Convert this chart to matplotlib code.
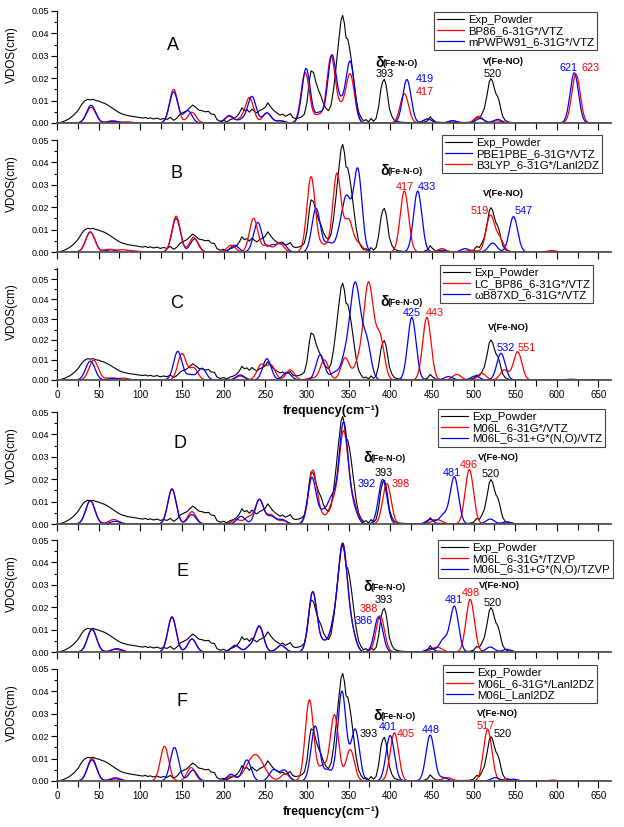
import numpy as np
import matplotlib
matplotlib.use("Agg")
from matplotlib import pyplot as plt
from matplotlib.ticker import MultipleLocator, FormatStrFormatter

plt.rcParams["font.family"] = ["Liberation Sans", "DejaVu Sans"]

W, H = 624, 827
RED, BLUE, BLACK = "#ff0000", "#0000ff", "#000000"

# experimental powder VDOS (same trace in every panel)
exp_freq = [0, 5, 10, 15, 20, 25, 30, 33, 37, 40, 43, 47, 50, 53, 57, 60, 63, 67, 70, 73,
            77, 80, 85, 90, 95, 100, 103, 106, 109, 112, 116, 120, 124, 128, 132, 136, 140,
            144, 148, 152, 156, 160, 163, 166, 170, 174, 178, 182, 185, 189, 192, 196, 200,
            204, 208, 212, 216, 219, 222, 225, 228, 231, 234, 237, 240, 243, 246, 250, 253,
            256, 259, 262, 265, 268, 271, 274, 277, 280, 283, 286, 290, 294, 297, 300, 303,
            305, 308, 311, 314, 317, 320, 323, 326, 329, 332, 335, 338, 341, 343, 345, 347,
            349, 351, 353, 355, 357, 359, 362, 365, 368, 371, 374, 377, 380, 383, 386, 389,
            391, 393, 395, 397, 399, 402, 405, 410, 415, 420, 430, 440, 445, 448, 451, 455,
            465, 480, 495, 500, 504, 507, 510, 513, 516, 519, 521, 523, 525, 527, 529, 531,
            533, 535, 538, 542, 548, 560, 600, 665]
exp_vdos = [0, .0003, .001, .002, .0035, .0055, .0085, .0098, .0106, .0103, .0106, .0100,
            .0098, .0093, .0088, .0082, .0075, .0065, .0058, .0050, .0042, .0038, .0033,
            .0030, .0027, .0024, .0022, .0025, .0020, .0023, .0018, .0022, .0016, .0020,
            .0016, .0025, .0012, .0022, .0040, .0048, .0055, .0070, .0080, .0072, .0058,
            .0055, .0050, .0052, .0040, .0038, .0015, .0008, .0012, .0005, .0015, .0020,
            .0030, .0045, .0068, .0055, .0060, .0048, .0062, .0052, .0045, .0055, .0060,
            .0070, .0090, .0075, .0060, .0050, .0042, .0035, .0040, .0030, .0035, .0042,
            .0025, .0020, .0022, .0028, .0040, .0090, .0190, .0233, .0225, .0180, .0145,
            .0120, .0085, .0065, .0055, .0080, .0150, .0250, .0360, .0460, .0480, .0445,
            .0380, .0375, .0340, .0290, .0230, .0170, .0110, .0050, .0025, .0010, .0015,
            .0005, .0020, .0008, .0020, .0070, .0155, .0185, .0195, .0170, .0120, .0065,
            .0030, .0012, .0005, .0003, .0002, .0002, .0002, .0010, .0028, .0015, .0004,
            .0002, .0002, .0003, .0008, .0025, .0020, .0040, .0065, .0120, .0185, .0198,
            .0185, .0155, .0130, .0118, .0095, .0060, .0030, .0012, .0004, .0001, 0, 0, 0]

# calculated spectra as peak tables: (centre cm-1, height, gaussian sigma)
a_bp86 = [(41, .0070, 5.5), (66, .0010, 6), (84, .0005, 6), (140, .0150, 5), (162, .0048, 5),
          (206, .0030, 5), (220, .0015, 5), (231, .0112, 5), (252, .0045, 5), (268, .0010, 5),
          (298, .0225, 5), (314, .0035, 5), (329, .0295, 5), (341, .0060, 5), (352, .0215, 5),
          (417, .0131, 5), (445, .0018, 5), (475, .0010, 5), (506, .0030, 5), (528, .0010, 5),
          (623, .0218, 5)]
a_mpw = [(41, .0079, 5.5), (68, .0008, 6), (140, .0139, 5), (157, .0055, 5), (207, .0033, 5),
         (222, .0015, 5), (234, .0118, 5), (252, .0045, 5), (268, .0010, 5), (299, .0243, 5),
         (315, .0045, 5), (330, .0298, 5), (341, .0070, 5), (352, .0270, 5), (420, .0194, 5),
         (445, .0018, 5), (475, .0010, 5), (508, .0020, 5), (529, .0016, 5), (621, .0224, 5)]

b_pbe = [(40, .0090, 5.5), (65, .0010, 6), (143, .0150, 5), (165, .0058, 5), (213, .0030, 5),
         (241, .0132, 5), (258, .0030, 5), (270, .0042, 5), (311, .0195, 5), (326, .0040, 5),
         (340, .0080, 5), (348, .0220, 5), (361, .0368, 5), (433, .0272, 5), (462, .0008, 5),
         (490, .0015, 5), (523, .0040, 5), (548, .0158, 5)]
b_b3lyp = [(40, .0088, 5.5), (62, .0012, 6), (78, .0010, 6), (92, .0005, 6), (143, .0160, 5),
           (164, .0065, 5), (209, .0030, 5), (236, .0150, 5), (252, .0030, 5), (267, .0040, 5),
           (305, .0336, 5), (320, .0030, 5), (336, .0350, 5), (350, .0140, 5), (362, .0035, 5),
           (417, .0272, 5), (462, .0015, 5), (498, .0008, 5), (520, .0160, 5), (531, .0060, 5),
           (594, .0007, 5)]

c_lcbp86 = [(44, .0098, 5.5), (64, .0010, 6), (80, .0009, 6), (150, .0130, 5), (164, .0060, 5),
            (220, .0020, 5), (245, .0075, 5), (257, .0072, 5), (280, .0050, 5), (305, .0010, 5),
            (321, .0100, 5), (346, .0110, 5), (361, .0070, 5), (374, .0480, 6), (388, .0200, 5),
            (444, .0310, 5), (480, .0028, 5), (510, .0033, 5), (537, .0050, 5), (553, .0140, 5),
            (615, .0004, 5)]
c_wb97 = [(40, .0094, 5.5), (68, .0008, 6), (145, .0142, 5), (160, .0025, 5), (174, .0058, 5),
          (220, .0025, 5), (252, .0105, 5), (276, .0038, 5), (316, .0125, 5), (333, .0035, 5),
          (345, .0080, 5), (358, .0480, 6.5), (372, .0170, 5), (426, .0310, 5), (470, .0017, 5),
          (502, .0020, 5), (533, .0132, 5), (620, .0003, 5)]

d_vtz = [(40, .0104, 5.5), (68, .0020, 6), (138, .0155, 5), (162, .0055, 5), (215, .0020, 5),
         (230, .0030, 5), (243, .0108, 5), (257, .0040, 5), (271, .0015, 5), (307, .0238, 5),
         (318, .0030, 5), (331, .0085, 5), (344, .0410, 5.5), (356, .0080, 5), (396, .0180, 5),
         (456, .0020, 6), (495, .0243, 5), (540, .0004, 5)]
d_diff = [(40, .0104, 5.5), (70, .0012, 6), (138, .0157, 5), (162, .0042, 5), (221, .0034, 5),
          (243, .0110, 5), (257, .0034, 5), (270, .0020, 5), (306, .0206, 5), (319, .0050, 5),
          (330, .0110, 5), (344, .0450, 5.5), (356, .0060, 5), (391, .0199, 5), (448, .0020, 5),
          (464, .0040, 5), (477, .0210, 5), (520, .0022, 5), (540, .0010, 5)]

e_tzvp = [(42, .0103, 5.5), (70, .0012, 6), (138, .0155, 5), (162, .0058, 5), (214, .0028, 5),
          (232, .0025, 5), (243, .0110, 5), (269, .0030, 5), (307, .0268, 5), (320, .0040, 5),
          (332, .0100, 5), (343, .0470, 5.5), (354, .0080, 5), (388, .0162, 5), (456, .0022, 6),
          (496, .0235, 5)]
e_diff = [(42, .0100, 5.5), (72, .0015, 6), (138, .0157, 5), (162, .0058, 5), (214, .0030, 5),
          (232, .0025, 5), (243, .0115, 5), (269, .0030, 5), (307, .0268, 5), (320, .0040, 5),
          (332, .0100, 5), (343, .0470, 5.5), (354, .0080, 5), (386, .0157, 5), (448, .0015, 5),
          (464, .0055, 5), (477, .0203, 5), (520, .0022, 5), (540, .0012, 5)]

f_631g = [(42, .0101, 5.5), (70, .0015, 6), (129, .0155, 5), (161, .0060, 5), (209, .0020, 5),
          (238, .0118, 10), (274, .0032, 5), (303, .0362, 5), (319, .0065, 5), (333, .0295, 5),
          (352, .0140, 5), (405, .0215, 5), (468, .0015, 6), (517, .0230, 5), (540, .0010, 5),
          (595, .0004, 5)]
f_lanl = [(42, .0094, 5.5), (70, .0010, 6), (141, .0150, 5), (163, .0048, 5), (209, .0030, 5),
          (228, .0094, 5), (260, .0050, 5), (273, .0048, 5), (310, .0245, 5), (325, .0048, 5),
          (342, .0400, 5), (358, .0230, 5), (400, .0203, 5), (448, .0205, 5), (464, .0015, 5),
          (526, .0015, 5), (548, .0008, 5)]

# panel: letter, (top px, bottom px), ymax, calc series, legend (x, y) px, delta label px,
# nu label px, peak labels
panels = [
    ("A", (11, 123), 0.05,
     [("BP86_6-31G*/VTZ", RED, a_bp86), ("mPWPW91_6-31G*/VTZ", BLUE, a_mpw)],
     (434, 12), (375, 62), (503, 62),
     [("393", BLACK, 385, 74), ("419", BLUE, 425, 79), ("417", RED, 425, 92),
      ("520", BLACK, 493, 74), ("621", BLUE, 569, 68), ("623", RED, 591, 68)]),
    ("B", (140, 252), 0.05,
     [("PBE1PBE_6-31G*/VTZ", BLUE, b_pbe), ("B3LYP_6-31G*/Lanl2DZ", RED, b_b3lyp)],
     (442, 135), (380, 170), (503, 193),
     [("417", RED, 405, 187), ("433", BLUE, 427, 187),
      ("519", RED, 480, 211), ("547", BLUE, 524, 211)]),
    ("C", (268, 380), 0.0555,
     [("LC_BP86_6-31G*/VTZ", RED, c_lcbp86), ("\u03c9B87XD_6-31G*/VTZ", BLUE, c_wb97)],
     (440, 265), (380, 301), (508, 328),
     [("425", BLUE, 412, 313), ("443", RED, 435, 313),
      ("532", BLUE, 506, 348), ("551", RED, 527, 348)]),
    ("D", (412, 524), 0.05,
     [("M06L_6-31G*/VTZ", RED, d_vtz), ("M06L_6-31+G*(N,O)/VTZ", BLUE, d_diff)],
     (438, 409), (363, 457), (498, 457),
     [("393", BLACK, 384, 473), ("392", BLUE, 367, 484), ("398", RED, 401, 484),
      ("481", BLUE, 452, 473), ("496", RED, 469, 465), ("520", BLACK, 491, 474)]),
    ("E", (540, 652), 0.05,
     [("M06L_6-31G*/TZVP", RED, e_tzvp), ("M06L_6-31+G*(N,O)/TZVP", BLUE, e_diff)],
     (438, 540), (363, 586), (499, 586),
     [("393", BLACK, 384, 600), ("388", RED, 369, 609), ("386", BLUE, 364, 621),
      ("481", BLUE, 454, 600), ("498", RED, 471, 593), ("520", BLACK, 493, 603)]),
    ("F", (669, 781), 0.05,
     [("M06L_6-31G*/Lanl2DZ", RED, f_631g), ("M06L_Lanl2DZ", BLUE, f_lanl)],
     (443, 665), (373, 715), (497, 714),
     [("393", BLACK, 369, 734), ("401", BLUE, 388, 727), ("405", RED, 406, 734),
      ("448", BLUE, 431, 730), ("517", RED, 486, 726), ("520", BLACK, 503, 734)]),
]
letter_pos = [(173, 45), (176, 173), (177, 303), (180, 443), (182, 572), (182, 702)]

X0, XMAX = 57, 665
PX_PER_UNIT = 0.833
freq = np.arange(0, XMAX + 0.5, 0.5)


def spectrum(peaks, x):
    y = np.zeros_like(x)
    for c, h, s in peaks:
        y += h * np.exp(-0.5 * ((x - c) / s) ** 2)
    return y


def fx(x):
    return x / W


def fy(y):
    return 1 - y / H


fig = plt.figure(figsize=(W / 100, H / 100), dpi=100)

for i, (letter, (top, bot), ymax, series, leg_xy, d_xy, v_xy, labels) in enumerate(panels):
    ax = fig.add_axes([fx(X0), fy(bot), XMAX * PX_PER_UNIT / W, (bot - top) / H])
    handles = []
    h, = ax.plot(exp_freq, exp_vdos, color=BLACK, lw=0.8, label="Exp_Powder")
    handles.append(h)
    for name, color, peaks in series:
        h, = ax.plot(freq, spectrum(peaks, freq), color=color, lw=0.9, label=name)
        handles.append(h)

    ax.set_xlim(0, XMAX)
    ax.set_ylim(0, ymax)
    for side in ("top", "right"):
        ax.spines[side].set_visible(False)
    ax.spines["left"].set_linewidth(0.8)
    ax.spines["bottom"].set_linewidth(1.3)
    ax.spines["bottom"].set_color("#555555")

    ax.xaxis.set_major_locator(MultipleLocator(50))
    ax.xaxis.set_minor_locator(MultipleLocator(25))
    ax.yaxis.set_minor_locator(MultipleLocator(0.005))
    ax.set_yticks(np.arange(0, 0.0501, 0.01))
    ax.yaxis.set_major_formatter(FormatStrFormatter("%.2f"))
    ax.tick_params(axis="x", which="major", length=5, width=0.8, labelsize=7, pad=2)
    ax.tick_params(axis="x", which="minor", length=4, width=0.8)
    ax.tick_params(axis="y", which="major", length=4, width=0.8, labelsize=6.5, pad=2)
    ax.tick_params(axis="y", which="minor", length=2.5, width=0.8)
    if letter not in ("C", "F"):
        ax.tick_params(axis="x", labelbottom=False)
    else:
        fig.text(fx(331), fy(bot + 31), "frequency(cm\u207b\u00b9)", ha="center",
                 va="center", fontsize=9, fontweight="bold")

    ax.set_ylabel("VDOS(cm)", fontsize=8.5)
    ax.yaxis.set_label_coords(-0.071, (bot - (top + 44)) / (bot - top))

    ax.legend(handles=handles, loc="upper left",
              bbox_to_anchor=(fx(leg_xy[0]), fy(leg_xy[1])), bbox_transform=fig.transFigure,
              fontsize=8.2, frameon=True, fancybox=False, edgecolor="#444444",
              framealpha=1, borderpad=0.25, labelspacing=0.1, handlelength=2.4,
              handletextpad=0.35, borderaxespad=0).get_frame().set_linewidth(0.8)

    lx, ly = letter_pos[i]
    fig.text(fx(lx), fy(ly), letter, ha="center", va="center", fontsize=13)

    fig.text(fx(d_xy[0]), fy(d_xy[1] + 1), "\u03b4", ha="left", va="center",
             fontsize=10, fontweight="bold")
    fig.text(fx(d_xy[0] + 7.5), fy(d_xy[1] + 1.5), "(Fe-N-O)", ha="left", va="center",
             fontsize=6.3, fontweight="bold")
    fig.text(fx(v_xy[0]), fy(v_xy[1]), "V(Fe-NO)", ha="center", va="center",
             fontsize=6.8, fontweight="bold")
    for text, color, x, y in labels:
        fig.text(fx(x), fy(y), text, ha="center", va="center", fontsize=7.8, color=color)

fig.savefig("out.png", dpi=100)
